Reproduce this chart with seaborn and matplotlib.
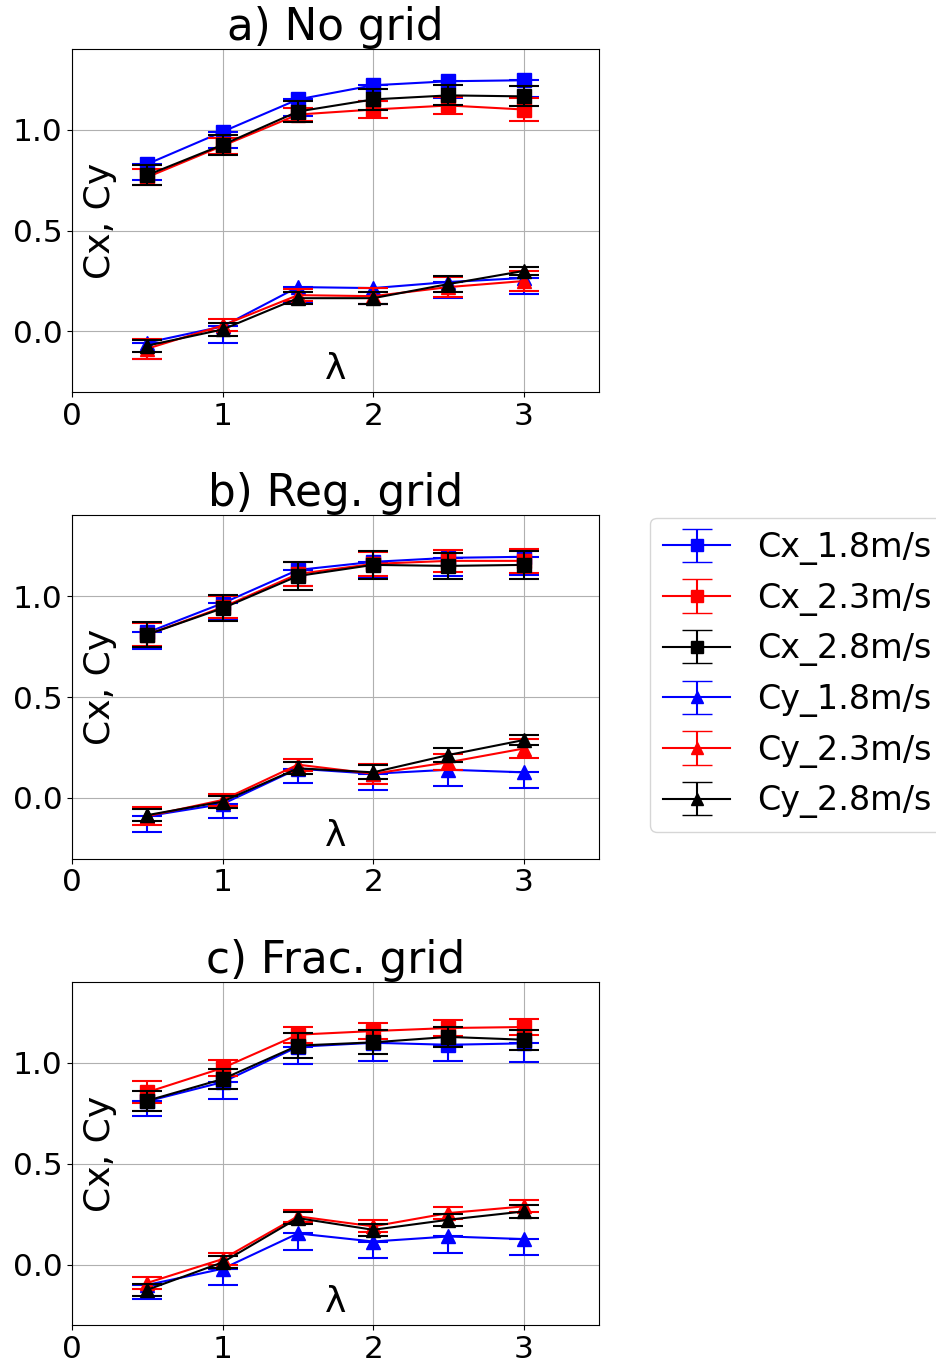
import numpy as np
import matplotlib
matplotlib.use("Agg")
import matplotlib.pyplot as plt
import seaborn as sns

# DATA
lam = [0.5, 1.0, 1.5, 2.0, 2.5, 3.0]
labels = ['Cx_1.8m/s', 'Cx_2.3m/s', 'Cx_2.8m/s', 'Cy_1.8m/s', 'Cy_2.3m/s', 'Cy_2.8m/s']
titles = ['a) No grid', 'b) Reg. grid', 'c) Frac. grid']

# a) no grid
a_cx18 = [0.83, 0.99, 1.15, 1.22, 1.24, 1.245]
a_cx23 = [0.765, 0.92, 1.075, 1.10, 1.12, 1.10]
a_cx28 = [0.775, 0.925, 1.09, 1.15, 1.17, 1.165]
a_cy18 = [-0.055, 0.025, 0.22, 0.215, 0.245, 0.265]
a_cy23 = [-0.085, 0.03, 0.18, 0.175, 0.22, 0.25]
a_cy28 = [-0.07, 0.01, 0.165, 0.165, 0.235, 0.30]
a_err = [[0.08, 0.08, 0.08, 0.08, 0.085, 0.085],
         [0.04, 0.04, 0.03, 0.04, 0.04, 0.055],
         [0.05, 0.05, 0.05, 0.05, 0.05, 0.05],
         [0.08, 0.08, 0.08, 0.08, 0.08, 0.08],
         [0.05, 0.03, 0.03, 0.04, 0.05, 0.05],
         [0.03, 0.03, 0.03, 0.03, 0.04, 0.02]]

# b) regular grid
b_cx18 = [0.82, 0.965, 1.13, 1.17, 1.19, 1.195]
b_cx23 = [0.81, 0.945, 1.11, 1.16, 1.175, 1.175]
b_cx28 = [0.81, 0.94, 1.10, 1.155, 1.15, 1.155]
b_cy18 = [-0.09, -0.03, 0.145, 0.12, 0.14, 0.127]
b_cy23 = [-0.09, -0.01, 0.165, 0.12, 0.177, 0.245]
b_cy28 = [-0.085, -0.018, 0.147, 0.127, 0.213, 0.287]
b_err = [[0.08, 0.08, 0.08, 0.08, 0.09, 0.09],
         [0.055, 0.055, 0.06, 0.06, 0.055, 0.06],
         [0.06, 0.065, 0.07, 0.07, 0.065, 0.07],
         [0.08, 0.07, 0.07, 0.08, 0.08, 0.08],
         [0.045, 0.03, 0.03, 0.05, 0.04, 0.045],
         [0.03, 0.03, 0.03, 0.035, 0.035, 0.025]]

# c) fractal grid
c_cx18 = [0.81, 0.905, 1.08, 1.10, 1.09, 1.097]
c_cx23 = [0.855, 0.975, 1.14, 1.158, 1.173, 1.178]
c_cx28 = [0.813, 0.92, 1.086, 1.102, 1.129, 1.115]
c_cy18 = [-0.10, -0.02, 0.155, 0.115, 0.14, 0.127]
c_cy23 = [-0.09, 0.028, 0.24, 0.19, 0.256, 0.289]
c_cy28 = [-0.124, 0.012, 0.231, 0.173, 0.223, 0.264]
c_err = [[0.075, 0.085, 0.085, 0.09, 0.08, 0.09],
         [0.055, 0.04, 0.04, 0.04, 0.04, 0.04],
         [0.05, 0.05, 0.06, 0.06, 0.05, 0.05],
         [0.07, 0.08, 0.08, 0.08, 0.08, 0.08],
         [0.03, 0.03, 0.03, 0.03, 0.03, 0.03],
         [0.03, 0.03, 0.03, 0.03, 0.03, 0.03]]

panels = [
    ([a_cx18, a_cx23, a_cx28, a_cy18, a_cy23, a_cy28], a_err),
    ([b_cx18, b_cx23, b_cx28, b_cy18, b_cy23, b_cy28], b_err),
    ([c_cx18, c_cx23, c_cx28, c_cy18, c_cy23, c_cy28], c_err),
]

colors = ['blue', 'red', 'black'] * 2
markers = ['s'] * 3 + ['^'] * 3

fig = plt.figure(figsize=(9.36, 13.64), dpi=100)
axes = [fig.add_axes([0.077, 0.7126, 0.563, 0.2515]),
        fig.add_axes([0.077, 0.3706, 0.563, 0.2515]),
        fig.add_axes([0.077, 0.0284, 0.563, 0.2515])]

for ax, title, (vals, errs) in zip(axes, titles, panels):
    for i in range(6):
        y = np.array(vals[i])
        e = np.array(errs[i])
        # the 1.8 m/s series only show the lower half of the bar
        yerr = [e, np.zeros_like(e)] if colors[i] == 'blue' else e
        ax.errorbar(lam, y, yerr=yerr, fmt='none', ecolor=colors[i], elinewidth=1.5,
                    capsize=11, capthick=1.5, zorder=2 + i * 0.1)
        sns.lineplot(x=lam, y=y, color=colors[i], marker=markers[i], markersize=10,
                     markeredgecolor=colors[i], markeredgewidth=1, linewidth=1.5,
                     errorbar=None, ax=ax, zorder=2.05 + i * 0.1)
    ax.set_xlim(0, 3.5)
    ax.set_ylim(-0.3, 1.4)
    ax.set_xticks([0, 1, 2, 3])
    ax.set_yticks([0.0, 0.5, 1.0])
    ax.tick_params(labelsize=22.5)
    ax.grid(True)
    ax.set_title(title, fontsize=31.5, pad=2)
    ax.set_ylabel('Cx, Cy', fontsize=26)
    ax.yaxis.set_label_coords(0.085, 0.5)
    ax.set_xlabel('λ', fontsize=26)
    ax.xaxis.set_label_coords(0.5, 0.116)

# legend handles with the errorbar look
handles = []
for i in range(6):
    h = axes[1].errorbar([np.nan], [np.nan], yerr=[0.05], fmt=markers[i] + '-', color=colors[i],
                         ms=9, lw=1.5, capsize=11, label=labels[i])
    handles.append(h)
axes[1].legend(handles=handles, loc='upper left', bbox_to_anchor=(1.097, 0.994),
               borderaxespad=0, fontsize=24, labelspacing=0.5)

fig.savefig('out.png', dpi=100)
